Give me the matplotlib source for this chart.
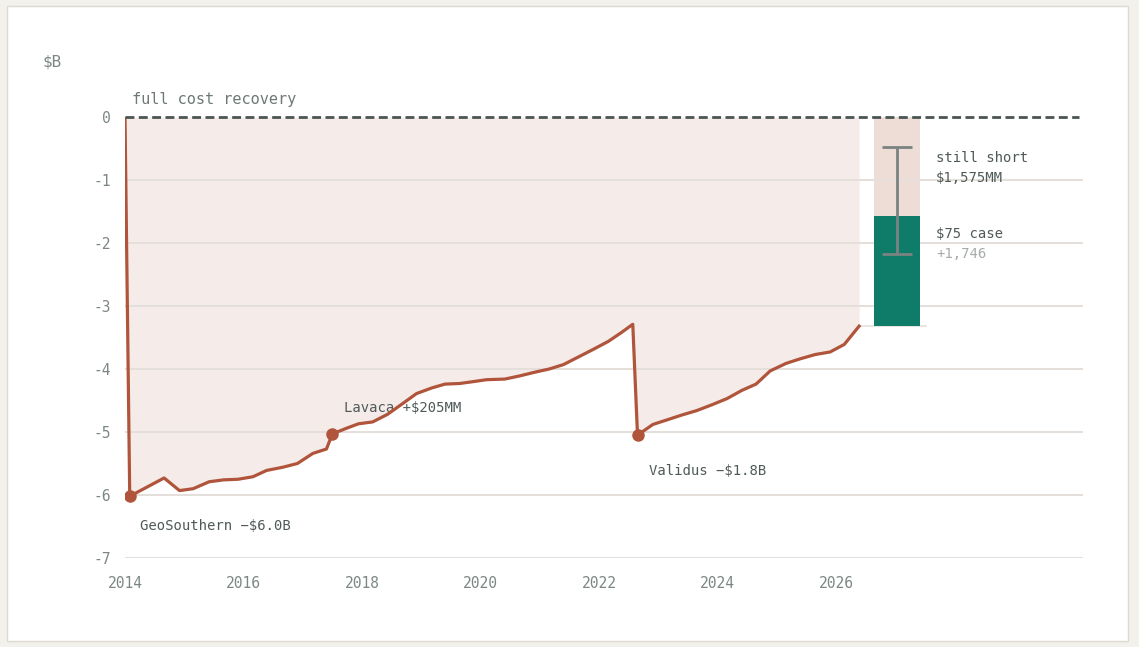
import matplotlib
matplotlib.use("Agg")
import matplotlib.pyplot as plt
from matplotlib.patches import Rectangle

# cumulative position vs full cost recovery, $B
years = [2014.0, 2014.08, 2014.66, 2014.92, 2015.15, 2015.42, 2015.66, 2015.91,
         2016.16, 2016.39, 2016.66, 2016.91, 2017.17, 2017.40, 2017.50, 2017.74,
         2017.94, 2018.18, 2018.43, 2018.67, 2018.92, 2019.18, 2019.40, 2019.65,
         2019.88, 2020.10, 2020.41, 2020.66, 2020.92, 2021.16, 2021.40, 2021.65,
         2021.90, 2022.16, 2022.38, 2022.57, 2022.65, 2022.91, 2023.14, 2023.40,
         2023.65, 2023.90, 2024.16, 2024.41, 2024.65, 2024.89, 2025.16, 2025.39,
         2025.65, 2025.90, 2026.14, 2026.39]
position = [0.0, -6.02, -5.73, -5.93, -5.90, -5.79, -5.76, -5.75,
            -5.71, -5.61, -5.56, -5.50, -5.34, -5.27, -5.03, -4.94,
            -4.87, -4.84, -4.72, -4.56, -4.39, -4.30, -4.24, -4.23,
            -4.20, -4.17, -4.16, -4.11, -4.05, -4.00, -3.93, -3.81,
            -3.69, -3.56, -3.42, -3.29, -5.05, -4.88, -4.81, -4.73,
            -4.66, -4.57, -4.47, -4.34, -4.24, -4.03, -3.91, -3.84,
            -3.77, -3.73, -3.61, -3.32]

events = [
    (2014.08, -6.02, "GeoSouthern \u2212$6.0B", 2014.25, -6.49),
    (2017.50, -5.03, "Lavaca +$205MM", 2017.70, -4.62),
    (2022.65, -5.05, "Validus \u2212$1.8B", 2022.85, -5.62),
]

gap_total = -3.321
upside = 1.746
still_short = -1.575
err_low, err_high = -2.18, -0.48
bar_x = 2027.03
bar_w = 0.78

yticks = [0, -1, -2, -3, -4, -5, -6, -7]
xticks = [2014, 2016, 2018, 2020, 2022, 2024, 2026]

line_col = "#b0553b"
fill_col = "#f5ece9"
text_col = "#4f5a58"
tick_col = "#7c8785"
mono = "DejaVu Sans Mono"

fig = plt.figure(figsize=(11.39, 6.47), dpi=100)
fig.patch.set_facecolor("#f3f1ec")
fig.patches.append(Rectangle((7 / 1139, 6 / 647), 1121 / 1139, 635 / 647,
                             transform=fig.transFigure, facecolor="white",
                             edgecolor="#dedad2", lw=1, zorder=-1))

ax = fig.add_axes([125 / 1139, 1 - 558 / 647, 958 / 1139, 441 / 647])
ax.set_zorder(1)
ax.set_facecolor("none")
ax.set_xlim(2014, 2014 + 958 / 59.25)
ax.set_ylim(-7, 0)
for s in ax.spines.values():
    s.set_visible(False)

for y in yticks[1:]:
    ax.axhline(y, color="#e5dfdb", lw=1.4, zorder=1)

ax.fill_between(years, position, 0, color=fill_col, lw=0, zorder=0.5)
ax.plot(years, position, color=line_col, lw=2.3, zorder=4, solid_joinstyle="round")
for ex, ey, label, tx, ty in events:
    ax.plot(ex, ey, "o", color=line_col, ms=8, zorder=5)
    ax.text(tx, ty, label, fontsize=10, family=mono, color=text_col, va="center")

# outcome bar
ax.bar(bar_x, gap_total, width=bar_w, bottom=0, color="#eedcd6", zorder=0.8)
ax.bar(bar_x, upside, width=bar_w, bottom=gap_total, color="#0f7b69", zorder=2)
ax.errorbar(bar_x, (err_low + err_high) / 2, yerr=(err_high - err_low) / 2,
            color="#7a8381", lw=2, capsize=11, capthick=2, zorder=3)
ax.plot([2026.39, 2027.52], [gap_total, gap_total], color="#e4e0dc", lw=1.2, zorder=1.5)

ax.plot([2014, 2030.1], [0, 0], color="#4a5553", lw=2, ls=(0, (3.2, 1.6)),
        zorder=6, clip_on=False)

ax.text(2027.69, -0.65, "still short", fontsize=10, family=mono, color=text_col, va="center")
ax.text(2027.69, -0.97, "$1,575MM", fontsize=10, family=mono, color=text_col, va="center")
ax.text(2027.69, -1.86, "$75 case", fontsize=10, family=mono, color=text_col, va="center")
ax.text(2027.69, -2.18, "+1,746", fontsize=10, family=mono, color="#a5aba9", va="center")

ax.text(2014.12, 0.27, "full cost recovery", fontsize=11, family=mono,
        color="#6e7977", va="center")
fig.text(43 / 1139, 1 - 62 / 647, "$B", fontsize=11.5, family=mono, color=tick_col, va="center")

ax.set_yticks(yticks)
ax.set_yticklabels([str(v) for v in yticks])
ax.set_xticks(xticks)
ax.set_xticklabels([str(v) for v in xticks])
ax.tick_params(length=0, labelsize=10.5, labelcolor=tick_col)
ax.tick_params(axis="y", pad=10)
ax.tick_params(axis="x", pad=13)
for lab in ax.get_xticklabels() + ax.get_yticklabels():
    lab.set_family(mono)

fig.savefig("out.png", dpi=100)
